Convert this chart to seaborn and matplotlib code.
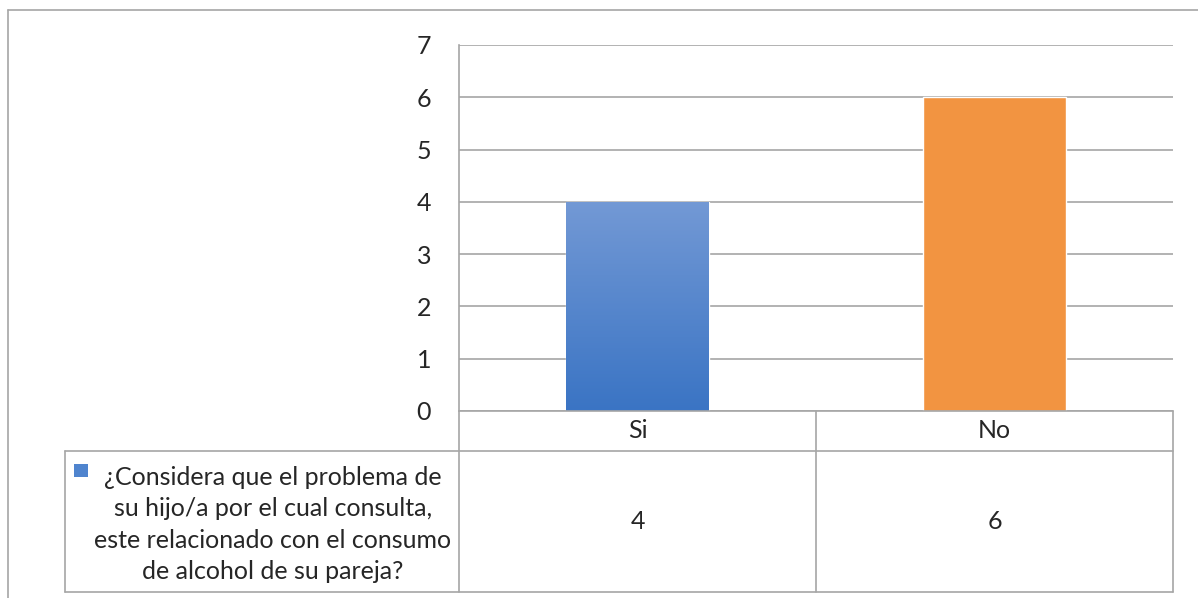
import numpy as np
import pandas as pd
import matplotlib
matplotlib.use("Agg")
import matplotlib.pyplot as plt
from matplotlib.lines import Line2D
from matplotlib.colors import LinearSegmentedColormap
import seaborn as sns

# Data
categories = ["Si", "No"]
values = [4, 6]
series_label = ("¿Considera que el problema de\nsu hijo/a por el cual consulta,\n"
                "este relacionado con el consumo\nde alcohol de su pareja?")
y_ticks = [0, 1, 2, 3, 4, 5, 6, 7]

sns.set_style("white")
plt.rcParams["font.family"] = ["Lato", "DejaVu Sans"]

W, H = 1198, 598
fig = plt.figure(figsize=(W / 100, H / 100), dpi=100)
fig.patch.set_facecolor("white")

def fx(px):
    return px / W

def fy(py):
    return 1 - py / H

GRID = "#A6A6A6"
FS = 18

# plot area
left, right, top, bottom = 459, 1173, 45, 411
ax = fig.add_axes([fx(left), fy(bottom), fx(right) - fx(left), fy(top) - fy(bottom)])

df = pd.DataFrame({"cat": categories, "val": values})
sns.barplot(data=df, x="cat", y="val", hue="cat", palette=["#4F84CE", "#F29441"],
            width=0.4, ax=ax, legend=False, saturation=1, zorder=3)

ax.set_xlim(-0.5, 1.5)
ax.set_ylim(0, 7)
ax.set_yticks(y_ticks)
ax.set_yticklabels([str(t) for t in y_ticks], fontsize=FS)
ax.tick_params(axis="y", length=0, pad=20)
ax.set_xticks([])
ax.set_xlabel("")
ax.set_ylabel("")
for s in ["top", "right", "bottom"]:
    ax.spines[s].set_visible(False)
ax.spines["left"].set_color(GRID)
ax.spines["left"].set_linewidth(1.2)
ax.yaxis.grid(True, color=GRID, linewidth=1.2, zorder=0)
ax.set_axisbelow(True)

# vertical gradient on the first bar
grad_cmap = LinearSegmentedColormap.from_list("g", ["#3A74C4", "#7399D5"])
bar0 = ax.patches[0]
bx, by = bar0.get_x(), bar0.get_y()
bw, bh = bar0.get_width(), bar0.get_height()
img = ax.imshow(np.linspace(0, 1, 256).reshape(-1, 1), cmap=grad_cmap, origin="lower",
                extent=[bx, bx + bw, by, by + bh], aspect="auto", zorder=4)
img.set_clip_path(bar0)

# data table below the plot
def col_px(xd):
    disp = ax.transData.transform((xd, 0))
    return disp[0]

c0, c1, c2 = col_px(-0.5), col_px(0.5), col_px(1.5)
tab_left = 65
row1, row2, row3 = 411, 451, 592

def hline(x0, x1, y, lw=1.2):
    fig.add_artist(Line2D([fx(x0), fx(x1)], [fy(y), fy(y)], color=GRID, lw=lw))

def vline(x, y0, y1, lw=1.2):
    fig.add_artist(Line2D([fx(x), fx(x)], [fy(y0), fy(y1)], color=GRID, lw=lw))

hline(c0, c2, row1)
hline(tab_left, c2, row2)
hline(tab_left, c2, row3)
vline(tab_left, row2, row3)
vline(c0, row1, row3)
vline(c1, row1, row3)
vline(c2, row1, row3)

for i, (cat, val) in enumerate(zip(categories, values)):
    xc = col_px(i)
    fig.text(fx(xc), fy((row1 + row2) / 2), cat, ha="center", va="center", fontsize=FS)
    fig.text(fx(xc), fy((row2 + row3) / 2), str(val), ha="center", va="center", fontsize=FS)

# legend key and series label
fig.add_artist(plt.Rectangle((fx(74), fy(477)), fx(14), fy(464) - fy(477),
                             facecolor="#4F84CE", edgecolor="none"))
fig.text(fx(273), fy((row2 + row3) / 2 + 3), series_label, ha="center", va="center",
         fontsize=FS, linespacing=1.45)

# outer chart frame
hline(8, W + 5, 10)
vline(8, 10, H + 5)

fig.savefig("out.png", dpi=100, facecolor="white")
